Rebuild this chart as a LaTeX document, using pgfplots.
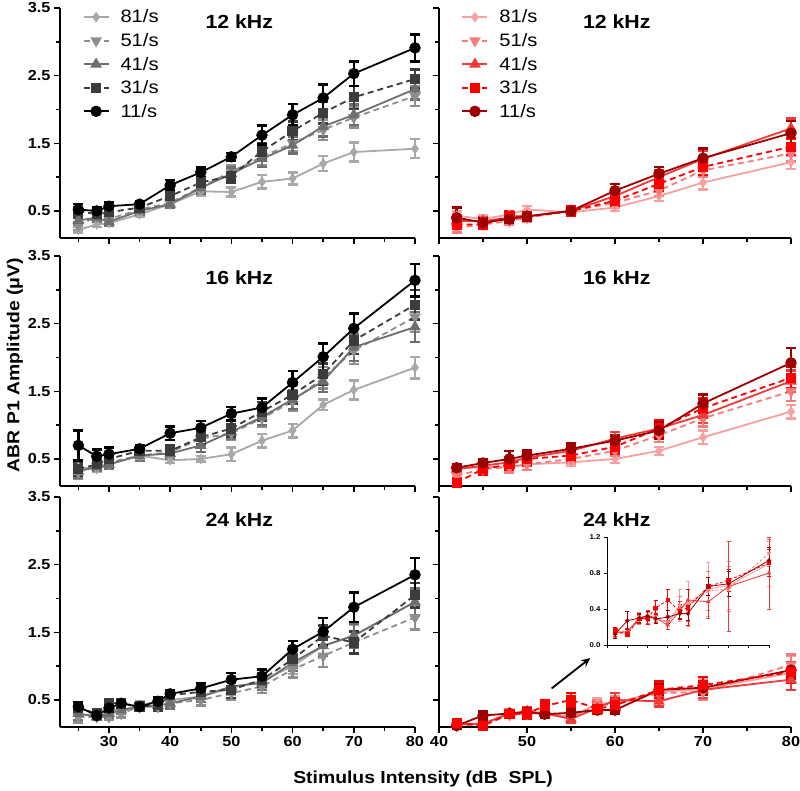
\documentclass[border=0pt]{standalone}
\usepackage{pgfplots}
\pgfplotsset{compat=1.18}
\usepackage{pgfplotstable}
\usepackage{fontspec}
\setmainfont[FakeStretch=1.12]{Liberation Sans}
\usetikzlibrary{arrows.meta}

\definecolor{g81}{HTML}{A8A8A8}
\definecolor{g51}{HTML}{8E8E8E}
\definecolor{g41}{HTML}{6E6E6E}
\definecolor{g31}{HTML}{3C3C3C}
\definecolor{g11}{HTML}{000000}
\definecolor{r81}{HTML}{F8A0A0}
\definecolor{r51}{HTML}{F47C7C}
\definecolor{r41}{HTML}{F03A3A}
\definecolor{r31}{HTML}{FF0000}
\definecolor{r11}{HTML}{9E0000}

% ---------------- data ----------------
\pgfplotstableread{
x  y81  e81  y51  e51  y41  e41  y31  e31  y11  e11
25 0.22 0.04 0.28 0.06 0.36 0.06 0.50 0.10 0.52 0.08
28 0.30 0.04 0.42 0.06 0.40 0.06 0.45 0.07 0.50 0.06
30 0.32 0.04 0.38 0.06 0.34 0.06 0.48 0.07 0.57 0.06
35 0.45 0.04 0.52 0.05 0.50 0.05 0.55 0.05 0.60 0.04
40 0.60 0.05 0.62 0.06 0.60 0.06 0.72 0.07 0.88 0.08
45 0.79 0.07 0.85 0.08 0.84 0.08 0.92 0.08 1.07 0.07
50 0.78 0.07 1.08 0.10 1.05 0.10 1.02 0.10 1.30 0.06
55 0.93 0.10 1.30 0.12 1.27 0.12 1.38 0.12 1.62 0.14
60 0.98 0.09 1.50 0.12 1.47 0.12 1.68 0.14 1.92 0.16
65 1.20 0.11 1.70 0.15 1.75 0.15 1.95 0.16 2.17 0.20
70 1.37 0.14 1.88 0.15 1.92 0.15 2.18 0.17 2.53 0.18
80 1.42 0.14 2.20 0.15 2.30 0.15 2.45 0.14 2.91 0.20
}\LA
\pgfplotstableread{
x  y81  e81  y51  e51  y41  e41  y31  e31  y11  e11
25 0.38 0.05 0.30 0.10 0.32 0.10 0.35 0.10 0.70 0.22
28 0.35 0.04 0.40 0.06 0.38 0.06 0.42 0.06 0.54 0.10
30 0.42 0.05 0.45 0.06 0.42 0.06 0.50 0.08 0.57 0.10
35 0.55 0.06 0.55 0.08 0.55 0.08 0.62 0.06 0.65 0.05
40 0.48 0.04 0.60 0.08 0.58 0.08 0.62 0.08 0.88 0.10
45 0.50 0.04 0.80 0.10 0.70 0.10 0.82 0.10 0.96 0.10
50 0.57 0.10 0.88 0.10 0.90 0.10 0.95 0.12 1.17 0.10
55 0.77 0.10 1.10 0.12 1.12 0.12 1.20 0.14 1.26 0.13
60 0.92 0.10 1.35 0.14 1.38 0.14 1.45 0.14 1.63 0.17
65 1.30 0.08 1.70 0.16 1.65 0.16 1.75 0.16 2.01 0.20
70 1.52 0.14 2.10 0.20 2.15 0.20 2.25 0.20 2.43 0.22
80 1.85 0.16 2.60 0.22 2.45 0.22 2.78 0.22 3.14 0.24
}\LB
\pgfplotstableread{
x  y81  e81  y51  e51  y41  e41  y31  e31  y11  e11
25 0.28 0.08 0.25 0.08 0.30 0.10 0.38 0.08 0.40 0.06
28 0.28 0.06 0.25 0.05 0.25 0.05 0.30 0.06 0.27 0.04
30 0.35 0.06 0.25 0.05 0.30 0.06 0.45 0.06 0.38 0.06
32 0.35 0.06 0.30 0.06 0.35 0.06 0.45 0.06 0.45 0.06
35 0.42 0.06 0.40 0.06 0.40 0.06 0.40 0.06 0.40 0.05
38 0.48 0.06 0.40 0.06 0.42 0.06 0.42 0.08 0.48 0.06
40 0.50 0.06 0.45 0.06 0.45 0.08 0.57 0.08 0.59 0.06
45 0.55 0.08 0.50 0.08 0.55 0.08 0.62 0.10 0.67 0.08
50 0.68 0.10 0.60 0.10 0.70 0.10 0.65 0.12 0.80 0.10
55 0.78 0.12 0.70 0.10 0.75 0.10 0.80 0.10 0.85 0.10
60 1.00 0.12 0.95 0.12 1.05 0.12 1.10 0.12 1.25 0.12
65 1.30 0.15 1.15 0.16 1.30 0.15 1.45 0.15 1.51 0.20
70 1.45 0.16 1.35 0.16 1.45 0.18 1.35 0.16 1.87 0.22
80 1.95 0.20 1.72 0.18 1.95 0.20 2.05 0.18 2.35 0.25
}\LC
\pgfplotstableread{
x  y81  e81  y51  e51  y41  e41  y31  e31  y11  e11
42 0.43 0.06 0.25 0.07 0.35 0.08 0.30 0.06 0.40 0.15
45 0.38 0.05 0.30 0.06 0.35 0.06 0.30 0.06 0.33 0.06
48 0.45 0.05 0.35 0.06 0.40 0.06 0.42 0.07 0.38 0.06
50 0.52 0.05 0.40 0.06 0.42 0.06 0.42 0.06 0.42 0.06
55 0.48 0.05 0.50 0.06 0.50 0.06 0.50 0.07 0.50 0.06
60 0.55 0.05 0.62 0.08 0.72 0.08 0.65 0.08 0.80 0.10
65 0.72 0.07 0.80 0.08 1.00 0.10 0.90 0.10 1.05 0.10
70 0.92 0.10 1.10 0.10 1.27 0.12 1.15 0.12 1.28 0.14
80 1.22 0.10 1.35 0.12 1.72 0.15 1.45 0.12 1.65 0.18
}\RA
\pgfplotstableread{
x  y81  e81  y51  e51  y41  e41  y31  e31  y11  e11
42 0.35 0.05 0.25 0.06 0.35 0.06 0.15 0.06 0.37 0.05
45 0.38 0.05 0.35 0.06 0.40 0.06 0.35 0.08 0.44 0.06
48 0.38 0.07 0.38 0.08 0.45 0.08 0.42 0.08 0.50 0.12
50 0.42 0.08 0.42 0.08 0.52 0.10 0.50 0.10 0.55 0.08
55 0.45 0.05 0.50 0.06 0.62 0.08 0.55 0.08 0.65 0.08
60 0.50 0.06 0.62 0.08 0.80 0.10 0.68 0.10 0.77 0.08
65 0.62 0.06 0.85 0.10 0.95 0.10 0.95 0.12 0.92 0.12
70 0.82 0.10 1.10 0.12 1.15 0.12 1.25 0.14 1.32 0.13
80 1.20 0.10 1.50 0.14 1.65 0.16 1.70 0.16 1.92 0.22
}\RB
\pgfplotstableread{
x  y81  e81  f81  y51  e51  f51  y41  e41  f41  y31  e31  f31  y11  e11  f11
42 0.14 0.04 0.04 0.12 0.04 0.04 0.14 0.04 0.04 0.16 0.04 0.03 0.12 0.04 0.05
45 0.14 0.04 0.04 0.14 0.04 0.04 0.15 0.04 0.03 0.12 0.04 0.03 0.27 0.06 0.10
48 0.30 0.06 0.06 0.28 0.05 0.05 0.30 0.05 0.05 0.29 0.06 0.05 0.30 0.05 0.05
50 0.32 0.06 0.06 0.30 0.06 0.06 0.33 0.06 0.05 0.30 0.08 0.07 0.32 0.05 0.05
52 0.30 0.05 0.06 0.32 0.05 0.06 0.30 0.05 0.05 0.41 0.08 0.08 0.29 0.05 0.05
55 0.25 0.06 0.08 0.25 0.06 0.08 0.22 0.06 0.05 0.50 0.10 0.12 0.31 0.06 0.07
58 0.44 0.08 0.18 0.42 0.08 0.12 0.38 0.08 0.10 0.37 0.07 0.08 0.35 0.06 0.07
60 0.46 0.10 0.25 0.44 0.08 0.18 0.50 0.10 0.12 0.42 0.10 0.20 0.35 0.06 0.08
65 0.62 0.10 0.30 0.60 0.10 0.22 0.48 0.08 0.18 0.65 0.12 0.10 0.65 0.08 0.10
70 0.66 0.14 0.27 0.62 0.12 0.25 0.65 0.12 0.50 0.72 0.12 0.12 0.68 0.10 0.14
80 0.90 0.25 0.25 1.02 0.15 0.15 0.80 0.15 0.40 0.91 0.15 0.15 0.94 0.12 0.14
}\RC

% ---------------- styles ----------------
\pgfplotsset{
  panel/.style={
    scale only axis, height=230pt,
    axis x line=bottom, axis y line=left,
    axis line style={-, line width=1.5pt},
    tick align=outside, major tick length=6pt, minor tick length=4pt,
    every tick/.style={line width=1.5pt, black},
    ymin=0.1, ymax=3.5, ytick={0.5,1.5,2.5,3.5}, minor ytick={1,2,3},
    yticklabel style={/pgf/number format/.cd, fixed, fixed zerofill, precision=1},
    tick label style={font=\bfseries\fontsize{14.5}{14.5}\selectfont},
    /pgf/number format/assume math mode=true,
    clip=false,
    legend style={draw=none, fill=none, at={(0.055,1.01)}, anchor=north west,
      font=\fontsize{18}{18}\selectfont, row sep=5pt,
      /tikz/every odd column/.append style={column sep=9pt}},
    legend cell align=left,
    legend image code/.code={\draw[mark repeat=2,mark phase=2] plot coordinates {(0pt,0pt) (12.5pt,0pt) (25pt,0pt)};},
  },
  leftp/.style={panel, width=355pt, xmin=22, xmax=80, xtick={30,40,...,80}, minor xtick={25,35,...,75}},
  rightp/.style={panel, width=352pt, xmin=40, xmax=80, xtick={40,50,...,80}, minor xtick={45,55,65,75}, yticklabels={}},
  ser/.style={line width=1.8pt,
    /pgfplots/error bars/y dir=both, /pgfplots/error bars/y explicit,
    /pgfplots/error bars/error bar style={line width=2.5pt, solid},
    /pgfplots/error bars/error mark options={rotate=90, line width=2.5pt, mark size=5pt, solid}},
  dsh/.style={dash pattern=on 6pt off 4pt},
  m81/.style={ser, solid, mark=diamond*, mark size=3.8pt, mark options={solid}},
  m51/.style={ser, dsh, mark=triangle*, mark size=5pt, mark options={solid, rotate=180}},
  m41/.style={ser, solid, mark=triangle*, mark size=5pt, mark options={solid}},
  m31/.style={ser, dsh, mark=square*, mark size=4.2pt, mark options={solid}},
  m11/.style={ser, solid, mark=*, mark size=4.8pt, mark options={solid}},
  ins/.style={line width=0.8pt, mark size=1.8pt,
    /pgfplots/error bars/error bar style={line width=0.9pt, solid},
    /pgfplots/error bars/error mark options={rotate=90, line width=0.9pt, mark size=2pt, solid}},
  insd/.style={dash pattern=on 3pt off 2pt},
}
\tikzset{ttl/.style={font=\bfseries\fontsize{19}{19}\selectfont}}

\begin{document}
\begin{tikzpicture}
\path[use as bounding box] (0pt,0pt) rectangle (800pt,790pt);

% ===== Left 12 kHz =====
\begin{axis}[leftp, at={(60pt,552pt)}, anchor=south west, xticklabels={}]
\addplot[m81, color=g81] table[x=x, y=y81, y error=e81] {\LA};
\addlegendentry{81/s}
\addplot[m51, color=g51] table[x=x, y=y51, y error=e51] {\LA};
\addlegendentry{51/s}
\addplot[m41, color=g41] table[x=x, y=y41, y error=e41] {\LA};
\addlegendentry{41/s}
\addplot[m31, color=g31] table[x=x, y=y31, y error=e31] {\LA};
\addlegendentry{31/s}
\addplot[m11, color=g11] table[x=x, y=y11, y error=e11] {\LA};
\addlegendentry{11/s}
\node[ttl] at (rel axis cs:0.505,0.94) {12 kHz};
\end{axis}

% ===== Right 12 kHz =====
\begin{axis}[rightp, at={(439pt,552pt)}, anchor=south west, xticklabels={}]
\addplot[m81, color=r81] table[x=x, y=y81, y error=e81] {\RA};
\addlegendentry{81/s}
\addplot[m51, color=r51] table[x=x, y=y51, y error=e51] {\RA};
\addlegendentry{51/s}
\addplot[m41, color=r41] table[x=x, y=y41, y error=e41] {\RA};
\addlegendentry{41/s}
\addplot[m31, color=r31] table[x=x, y=y31, y error=e31] {\RA};
\addlegendentry{31/s}
\addplot[m11, color=r11] table[x=x, y=y11, y error=e11] {\RA};
\addlegendentry{11/s}
\node[ttl] at (rel axis cs:0.505,0.94) {12 kHz};
\end{axis}

% ===== Left 16 kHz =====
\begin{axis}[leftp, at={(60pt,304pt)}, anchor=south west, xticklabels={}]
\addplot[m81, color=g81] table[x=x, y=y81, y error=e81] {\LB};
\addplot[m51, color=g51] table[x=x, y=y51, y error=e51] {\LB};
\addplot[m41, color=g41] table[x=x, y=y41, y error=e41] {\LB};
\addplot[m31, color=g31] table[x=x, y=y31, y error=e31] {\LB};
\addplot[m11, color=g11] table[x=x, y=y11, y error=e11] {\LB};
\node[ttl] at (rel axis cs:0.505,0.905) {16 kHz};
\end{axis}

% ===== Right 16 kHz =====
\begin{axis}[rightp, at={(439pt,304pt)}, anchor=south west, xticklabels={}]
\addplot[m81, color=r81] table[x=x, y=y81, y error=e81] {\RB};
\addplot[m51, color=r51] table[x=x, y=y51, y error=e51] {\RB};
\addplot[m41, color=r41] table[x=x, y=y41, y error=e41] {\RB};
\addplot[m31, color=r31] table[x=x, y=y31, y error=e31] {\RB};
\addplot[m11, color=r11] table[x=x, y=y11, y error=e11] {\RB};
\node[ttl] at (rel axis cs:0.505,0.905) {16 kHz};
\end{axis}

% ===== Left 24 kHz =====
\begin{axis}[leftp, at={(60pt,63pt)}, anchor=south west]
\addplot[m81, color=g81] table[x=x, y=y81, y error=e81] {\LC};
\addplot[m51, color=g51] table[x=x, y=y51, y error=e51] {\LC};
\addplot[m41, color=g41] table[x=x, y=y41, y error=e41] {\LC};
\addplot[m31, color=g31] table[x=x, y=y31, y error=e31] {\LC};
\addplot[m11, color=g11] table[x=x, y=y11, y error=e11] {\LC};
\node[ttl] at (rel axis cs:0.505,0.9) {24 kHz};
\end{axis}

% ===== Right 24 kHz =====
\begin{axis}[rightp, at={(439pt,63pt)}, anchor=south west]
\addplot[m81, color=r81] table[x=x, y=y81, y error=e81] {\RC};
\addplot[m51, color=r51] table[x=x, y=y51, y error=e51] {\RC};
\addplot[m41, color=r41] table[x=x, y=y41, y error=e41] {\RC};
\addplot[m11, color=r11] table[x=x, y=y11, y error=e11] {\RC};
\addplot[m31, color=r31] table[x=x, y=y31, y error=e31] {\RC};
\node[ttl] at (rel axis cs:0.505,0.9) {24 kHz};
\draw[-{Stealth[length=9pt,width=8pt]}, line width=1.8pt, black] (axis cs:52.8,0.67) -- (axis cs:57.2,1.12);
\end{axis}

% ===== Inset =====
\begin{axis}[scale only axis, at={(607pt,145pt)}, anchor=south west,
  width=162pt, height=108pt,
  axis x line=bottom, axis y line=left, axis line style={-, line width=0.8pt},
  tick align=outside, major tick length=3pt,
  every tick/.style={line width=0.8pt, black},
  xmin=40, xmax=80, ymin=0, ymax=1.2,
  xtick={40,45,...,80}, xticklabels={},
  ytick={0,0.4,0.8,1.2},
  yticklabel style={/pgf/number format/.cd, fixed, fixed zerofill, precision=1},
  tick label style={font=\bfseries\fontsize{7}{7}\selectfont},
  /pgf/number format/assume math mode=true,
  clip=false]
\addplot[m81, ins, color=r81] table[x=x, y=y81, y error=f81] {\RC};
\addplot[m51, ins, insd, color=r51] table[x=x, y=y51, y error=f51] {\RC};
\addplot[m41, ins, color=r41] table[x=x, y=y41, y error=f41] {\RC};
\addplot[m31, ins, insd, color=r31] table[x=x, y=y31, y error=f31] {\RC};
\addplot[m11, ins, color=r11] table[x=x, y=y11, y error=f11] {\RC};
\end{axis}

% ===== axis titles =====
\node[rotate=90, font=\bfseries\fontsize{17.3}{17.3}\selectfont] at (15pt,425pt) {ABR P1 Amplitude (μV)};
\node[font=\bfseries\fontsize{17.3}{17.3}\selectfont] at (423pt,11pt) {Stimulus Intensity (dB\ \ SPL)};
\end{tikzpicture}
\end{document}
